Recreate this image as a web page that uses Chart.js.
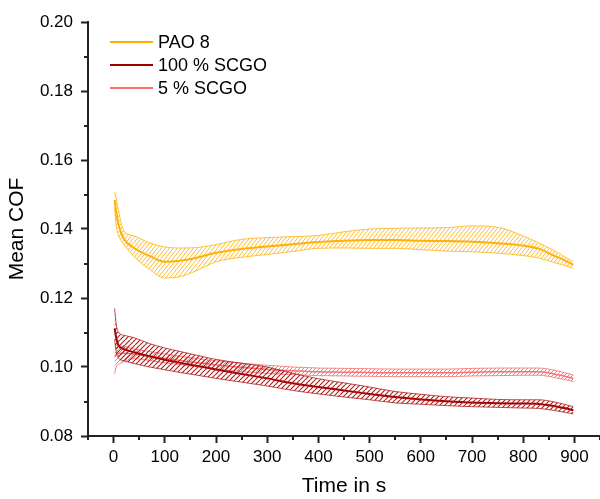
<!DOCTYPE html>
<html>
<head>
<meta charset="utf-8">
<script src="https://cdn.jsdelivr.net/npm/chart.js@4.4.1/dist/chart.umd.min.js"></script>
<style>
html, body { margin: 0; padding: 0; background: #fff; }
</style>
</head>
<body>
<canvas id="cofChart" width="600" height="499"></canvas>
<script>
// Sampling times in s, shared by all curves
const timeSeconds = [2, 5, 10, 20, 40, 70, 100, 130, 160, 200, 250, 300, 350, 400, 450, 500, 550, 600, 650, 700, 750, 800, 830, 860, 880, 898];

// PAO 8
const pao8Lower = [0.1460, 0.1410, 0.1380, 0.1355, 0.1320, 0.1283, 0.1258, 0.1262, 0.1278, 0.1305, 0.1318, 0.1326, 0.1335, 0.1344, 0.1345, 0.1344, 0.1344, 0.1340, 0.1336, 0.1334, 0.1330, 0.1323, 0.1316, 0.1303, 0.1295, 0.1286];
const pao8Mean = [0.1484, 0.1450, 0.1410, 0.1372, 0.1345, 0.1322, 0.1305, 0.1308, 0.1316, 0.1331, 0.1342, 0.1349, 0.1356, 0.1362, 0.1366, 0.1368, 0.1368, 0.1366, 0.1365, 0.1363, 0.1359, 0.1352, 0.1343, 0.1323, 0.1310, 0.1296];
const pao8Upper = [0.1507, 0.1490, 0.1450, 0.1395, 0.1380, 0.1360, 0.1348, 0.1345, 0.1346, 0.1355, 0.1370, 0.1375, 0.1378, 0.1381, 0.1392, 0.1400, 0.1402, 0.1403, 0.1404, 0.1409, 0.1405, 0.1380, 0.1360, 0.1338, 0.1320, 0.1305];

// 100 % SCGO
const scgo100Lower = [0.1080, 0.1045, 0.1025, 0.1018, 0.1010, 0.1000, 0.0992, 0.0984, 0.0977, 0.0967, 0.0956, 0.0945, 0.0932, 0.0922, 0.0913, 0.0905, 0.0896, 0.0892, 0.0888, 0.0885, 0.0883, 0.0881, 0.0880, 0.0874, 0.0869, 0.0864];
const scgo100Mean = [0.1112, 0.1085, 0.1062, 0.1052, 0.1043, 0.1031, 0.1021, 0.1012, 0.1004, 0.0993, 0.0980, 0.0967, 0.0953, 0.0942, 0.0932, 0.0922, 0.0913, 0.0906, 0.0901, 0.0897, 0.0895, 0.0894, 0.0893, 0.0887, 0.0881, 0.0875];
const scgo100Upper = [0.1170, 0.1125, 0.1100, 0.1092, 0.1085, 0.1068, 0.1055, 0.1045, 0.1035, 0.1022, 0.1011, 0.1000, 0.0982, 0.0966, 0.0954, 0.0942, 0.0929, 0.0921, 0.0914, 0.0910, 0.0906, 0.0905, 0.0905, 0.0899, 0.0892, 0.0885];

// 5 % SCGO
const scgo5Lower = [0.0980, 0.1000, 0.1008, 0.1015, 0.1024, 0.1019, 0.1012, 0.1007, 0.1001, 0.0994, 0.0987, 0.0981, 0.0978, 0.0975, 0.0974, 0.0973, 0.0972, 0.0972, 0.0972, 0.0974, 0.0975, 0.0976, 0.0976, 0.0970, 0.0964, 0.0958];
const scgo5Mean = [0.1030, 0.1036, 0.1039, 0.1040, 0.1038, 0.1032, 0.1025, 0.1019, 0.1013, 0.1006, 0.0999, 0.0993, 0.0989, 0.0986, 0.0985, 0.0984, 0.0983, 0.0983, 0.0983, 0.0985, 0.0986, 0.0986, 0.0986, 0.0980, 0.0974, 0.0967];
const scgo5Upper = [0.1068, 0.1064, 0.1062, 0.1060, 0.1052, 0.1045, 0.1038, 0.1031, 0.1025, 0.1018, 0.1011, 0.1005, 0.1000, 0.0997, 0.0996, 0.0995, 0.0994, 0.0994, 0.0994, 0.0996, 0.0997, 0.0997, 0.0997, 0.0991, 0.0984, 0.0977];

const seriesNames = ['PAO 8', '100 % SCGO', '5 % SCGO'];

// Axis ticks
const xTickValues = [0, 100, 200, 300, 400, 500, 600, 700, 800, 900];
const xMinorTicks = [-50, 50, 150, 250, 350, 450, 550, 650, 750, 850, 950];
const yTickValues = [0.08, 0.10, 0.12, 0.14, 0.16, 0.18, 0.20];
const yMinorTicks = [0.09, 0.11, 0.13, 0.15, 0.17, 0.19];

const FONT = '"Liberation Sans", Arial, sans-serif';
const axisColor = '#222';
const lineColors = ['#ffaf00', '#a00000', '#ff7070'];
const edgeColors = ['rgba(255,176,0,0.75)', 'rgba(170,20,20,0.75)', 'rgba(255,100,100,0.75)'];
const hatchColors = ['rgba(255,185,40,0.95)', 'rgba(175,20,20,0.95)', 'rgba(255,110,110,0.9)'];

// Diagonal "///" hatch pattern used to fill the bands
function makeHatch(color, w, h, width) {
    const c = document.createElement('canvas');
    c.width = w;
    c.height = h;
    const g = c.getContext('2d');
    g.strokeStyle = color;
    g.lineWidth = width;
    g.beginPath();
    g.moveTo(0, h); g.lineTo(w, 0);
    g.moveTo(-w, h); g.lineTo(0, 0);
    g.moveTo(w, h); g.lineTo(2 * w, 0);
    g.stroke();
    return g.createPattern(c, 'repeat');
}

function toPoints(values) {
    return values.map((v, i) => ({ x: timeSeconds[i], y: v }));
}

// lower edge, upper edge (filled down to lower), mean line
function bandDatasets(idx, lower, mean, upper, hatch, meanWidth) {
    const edge = {
        borderColor: edgeColors[idx],
        borderWidth: 1,
        pointRadius: 0,
        cubicInterpolationMode: 'monotone'
    };
    return [
        { ...edge, label: seriesNames[idx] + ' lower', data: toPoints(lower), fill: false },
        { ...edge, label: seriesNames[idx] + ' upper', data: toPoints(upper), fill: '-1', backgroundColor: hatch },
        { label: seriesNames[idx], data: toPoints(mean), fill: false,
          borderColor: lineColors[idx], borderWidth: meanWidth, pointRadius: 0,
          cubicInterpolationMode: 'monotone' }
    ];
}

const minorTicksPlugin = {
    id: 'minorTicks',
    afterDraw(chart) {
        const { ctx, scales: { x, y } } = chart;
        ctx.save();
        ctx.strokeStyle = axisColor;
        ctx.lineWidth = 2;
        ctx.beginPath();
        xMinorTicks.forEach(v => {
            const px = Math.round(x.getPixelForValue(v));
            ctx.moveTo(px, x.top);
            ctx.lineTo(px, x.top + 4);
        });
        yMinorTicks.forEach(v => {
            const py = Math.round(y.getPixelForValue(v));
            ctx.moveTo(y.right, py);
            ctx.lineTo(y.right - 4, py);
        });
        ctx.stroke();
        ctx.restore();
    }
};

const cornerLegendPlugin = {
    id: 'cornerLegend',
    afterDraw(chart) {
        const { ctx, chartArea } = chart;
        ctx.save();
        ctx.font = '18px ' + FONT;
        ctx.textBaseline = 'middle';
        seriesNames.forEach((name, i) => {
            const x = chartArea.left + 22;
            const y = chartArea.top + 20 + i * 23;
            ctx.strokeStyle = lineColors[i];
            ctx.lineWidth = 2;
            ctx.beginPath();
            ctx.moveTo(x, y);
            ctx.lineTo(x + 43, y);
            ctx.stroke();
            ctx.fillStyle = '#000';
            ctx.fillText(name, x + 48, y + 1);
        });
        ctx.restore();
    }
};

new Chart(document.getElementById('cofChart').getContext('2d'), {
    type: 'line',
    data: {
        datasets: [
            ...bandDatasets(0, pao8Lower, pao8Mean, pao8Upper, makeHatch(hatchColors[0], 4, 5, 1), 2),
            ...bandDatasets(1, scgo100Lower, scgo100Mean, scgo100Upper, makeHatch(hatchColors[1], 5, 5, 1.2), 2),
            ...bandDatasets(2, scgo5Lower, scgo5Mean, scgo5Upper, makeHatch(hatchColors[2], 4, 4, 1), 1.5)
        ]
    },
    options: {
        responsive: false,
        animation: false,
        layout: { padding: { top: 22, right: 0, bottom: 0, left: 0 } },
        plugins: {
            legend: { display: false },
            tooltip: { enabled: false }
        },
        scales: {
            x: {
                type: 'linear',
                min: -50,
                max: 950,
                afterBuildTicks: scale => { scale.ticks = xTickValues.map(v => ({ value: v })); },
                afterFit: scale => { scale.height = 63; },
                grid: { display: true, drawOnChartArea: false, drawTicks: true, tickLength: 7, tickWidth: 2, tickColor: axisColor },
                border: { display: true, color: axisColor, width: 2 },
                ticks: { color: '#000', padding: 4, maxRotation: 0, font: { family: FONT, size: 17 } },
                title: { display: true, text: 'Time in s', color: '#000', padding: { top: 0, bottom: 0 }, font: { family: FONT, size: 21 } }
            },
            y: {
                min: 0.08,
                max: 0.20,
                afterBuildTicks: scale => { scale.ticks = yTickValues.map(v => ({ value: v })); },
                afterFit: scale => { scale.width = 88; },
                grid: { display: true, drawOnChartArea: false, drawTicks: true, tickLength: 7, tickWidth: 2, tickColor: axisColor },
                border: { display: true, color: axisColor, width: 2 },
                ticks: { color: '#000', padding: 8, font: { family: FONT, size: 17 }, callback: v => v.toFixed(2) },
                title: { display: true, text: 'Mean COF', color: '#000', padding: { top: 5, bottom: 0 }, font: { family: FONT, size: 21 } }
            }
        }
    },
    plugins: [minorTicksPlugin, cornerLegendPlugin]
});
</script>
</body>
</html>
